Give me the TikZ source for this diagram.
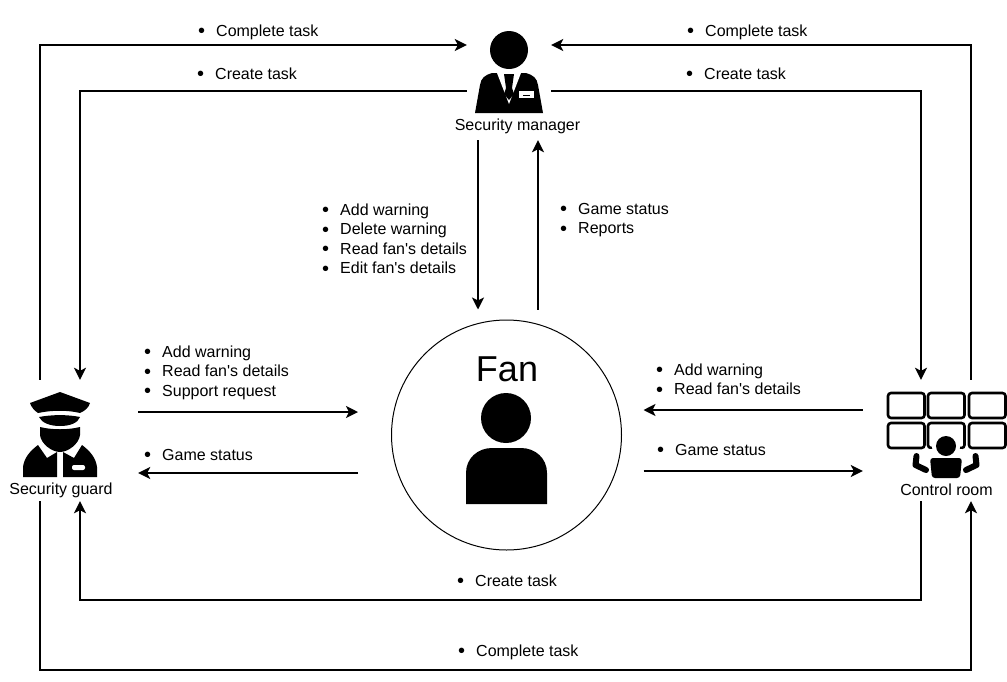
\documentclass[tikz,border=0pt]{standalone}
\usepackage{fontspec}
\setmainfont{Liberation Sans}
\usepackage{tikz}
\usetikzlibrary{arrows.meta, positioning}
\tikzset{>={Stealth[length=12pt,width=12pt,inset=3pt]}}
\tikzset{
  actor/.style={rectangle,inner sep=0pt},
  link/.style={->,line width=2pt},
  tasklist/.style={anchor=north west,inner sep=0pt,align=left,font=\fontsize{16}{19.5}\selectfont},
  caption/.style={inner sep=0pt,font=\fontsize{16}{19.5}\selectfont},
  screen/.style={draw,line width=2.6pt,rounded corners=3pt}
}
\newcommand{\itm}[1]{\strut\makebox[18pt][l]{\raisebox{-1.6pt}{\fontsize{20}{19.5}\selectfont\textbullet}}#1}

\begin{document}
\begin{tikzpicture}[x=1pt,y=-1pt]
      \useasboundingbox (0,0) rectangle (1007,681);
      % actors
      \node (mgr) at (509,84)[actor,minimum width=84pt,minimum height=112pt] {};
      \node (guard) at (60,440.5)[actor,minimum width=156pt,minimum height=121pt] {};
      \node (ctrl) at (946,440.5)[actor,minimum width=166pt,minimum height=121pt] {};
      \node (fan) at (506.5,435)[circle,draw,line width=1pt,inner sep=0pt,minimum size=230pt] {};
      \node (fantext) at (507,369)[caption,font=\fontsize{36}{40}\selectfont] {Fan};
      \node (mgrtext) at (517.5,126)[caption] {Security manager};
      \node (guardtext) at (61,490)[caption] {Security guard};
      \node (ctrltext) at (946.5,490)[caption] {Control room};
      % manager icon
      \fill (509,50) circle (19);
      \fill (475,113) -- (480,85) .. controls (481,78) and (485,75) .. (492,73) -- (526,73)
        .. controls (533,75) and (537,78) .. (538,85) -- (543,113) -- cycle;
      \fill[white] (497,73) -- (521,73) -- (509,104) -- cycle;
      \fill (504,74) -- (514,74) -- (512,88) -- (514,94) -- (509,100) -- (504,94) -- (506,88) -- cycle;
      \fill[white] (519,91) rectangle (534,98);
      \fill (523,94.5) rectangle (530,96);
      % guard icon
      \fill (60,392) -- (90,403) .. controls (89,407) and (85,411) .. (80,413)
        .. controls (68,410) and (52,410) .. (38,413) .. controls (35,411) and (31,407) .. (30,403) -- cycle;
      \fill (39,417) .. controls (52,414.5) and (68,414.5) .. (80,417) .. controls (78,423) and (70,426) .. (60,426)
        .. controls (50,426) and (42,423) .. (39,417) -- cycle;
      \fill (40,427) .. controls (52,430) and (68,430) .. (80,427) -- (80,435) .. controls (79,444) and (68,452) .. (60,452)
        .. controls (52,452) and (41,444) .. (40,435) -- cycle;
      \fill (23,477) -- (23,467) .. controls (24,458) and (30,451) .. (38,445) -- (47,458) -- (57,452) -- (57,477) -- cycle;
      \fill (97,477) -- (97,467) .. controls (96,458) and (90,451) .. (82,445) -- (74,458) -- (63,452) -- (63,477) -- cycle;
      \fill[white,rounded corners=2pt] (72,465) rectangle (85,470);
      % control room icon
      \foreach \sx in {888,928,969}
        \draw[screen] (\sx,393) rectangle ++(36.5,25);
      \foreach \sx in {888,928,969}
        \draw[screen] (\sx,423) rectangle ++(36.5,25);
      \fill[white] (946,446) circle (14);
      \fill[white] (930,449) rectangle (962,458);
      \fill (946,446) circle (10);
      \fill[rounded corners=3pt] (930,458) -- (962,458) -- (960,478) -- (932,478) -- cycle;
      \draw[line width=6pt,line cap=round,line join=round] (916.5,456) -- (915.5,465) -- (926,470);
      \draw[line width=6pt,line cap=round,line join=round] (975.5,456) -- (976.5,465) -- (966,470);
      % fan icon
      \fill (506,418) circle (25);
      \fill (466,504) -- (466,473) .. controls (466,458) and (478,448) .. (492,448) -- (521,448)
        .. controls (535,448) and (547,458) .. (547,473) -- (547,504) -- cycle;
      % links
      \draw [link] ([xshift=-20]guard.north) |- ([yshift=39]mgr.west);
      \draw [link] ([yshift=-7]mgr.west) -| ([xshift=20]guard.north);
      \draw [link] ([xshift=25]ctrl.north) |- ([yshift=39]mgr.east);
      \draw [link] ([yshift=-7]mgr.east) -| ([xshift=-25]ctrl.north);
      \draw [link] ([xshift=-31]mgr.south) -- ([xshift=-28.5,yshift=10]fan.north);
      \draw [link] ([xshift=31.5,yshift=10]fan.north) -- ([xshift=29]mgr.south);
      \draw [link] ([yshift=28.5]guard.east) -- ([xshift=-33,yshift=23]fan.west);
      \draw [link] ([xshift=-33,yshift=-38]fan.west) -- ([yshift=-32.5]guard.east);
      \draw [link] ([yshift=30.5]ctrl.west) -- ([xshift=21.5,yshift=25]fan.east);
      \draw [link] ([xshift=21.5,yshift=-36]fan.east) -- ([yshift=-30.5]ctrl.west);
      \draw [link] ([xshift=-25]ctrl.south) -- ++(0,99) -| ([xshift=20]guard.south);
      \draw [link] ([xshift=-20]guard.south) -- ++(0,169) -| ([xshift=25]ctrl.south);
      % labels
      \node (l1) at (198,22.5)[tasklist] {\itm{Complete task}};
      \node (l2) at (197,65.5)[tasklist] {\itm{Create task}};
      \node (l3) at (687,22.5)[tasklist] {\itm{Complete task}};
      \node (l4) at (686,65.5)[tasklist] {\itm{Create task}};
      \node (l5) at (322,201.5)[tasklist] {\itm{Add warning}\\\itm{Delete warning}\\\itm{Read fan\textquotesingle s details}\\\itm{Edit fan\textquotesingle s details}};
      \node (l6) at (560,200.5)[tasklist] {\itm{Game status}\\\itm{Reports}};
      \node (l7) at (144,343.5)[tasklist] {\itm{Add warning}\\\itm{Read fan\textquotesingle s details}\\\itm{Support request}};
      \node (l8) at (144,446.5)[tasklist] {\itm{Game status}};
      \node (l9) at (656,361.5)[tasklist] {\itm{Add warning}\\\itm{Read fan\textquotesingle s details}};
      \node (l10) at (657,441.5)[tasklist] {\itm{Game status}};
      \node (l11) at (457,572.5)[tasklist] {\itm{Create task}};
      \node (l12) at (458,642.5)[tasklist] {\itm{Complete task}};
\end{tikzpicture}
\end{document}
